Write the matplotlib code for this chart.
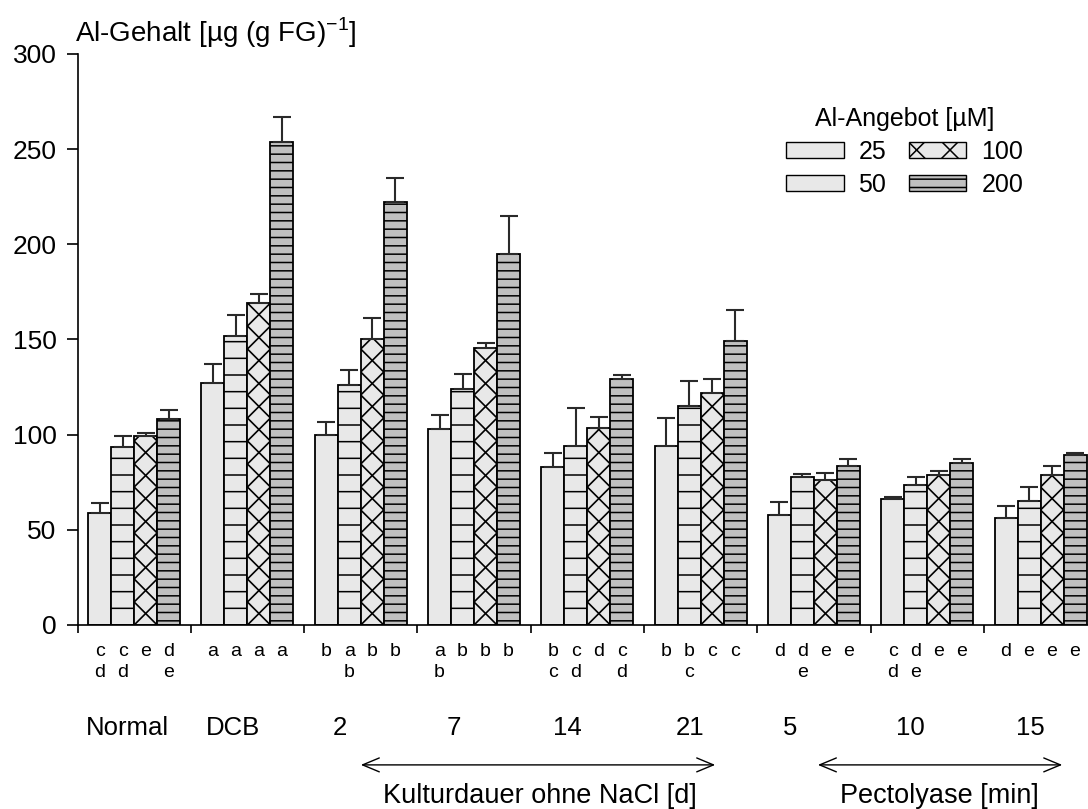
import numpy as np
import matplotlib
matplotlib.use("Agg")
import matplotlib.pyplot as plt
from matplotlib.patches import Patch, FancyArrowPatch
from matplotlib.lines import Line2D

plt.rcParams["font.family"] = ["Liberation Sans", "DejaVu Sans"]
plt.rcParams["hatch.linewidth"] = 1.1
plt.rcParams["mathtext.fontset"] = "custom"
plt.rcParams["mathtext.rm"] = "Liberation Sans"

groups = ["Normal", "DCB", "2", "7", "14", "21", "5", "10", "15"]
supply = ["25", "50", "100", "200"]

al25 = [59, 127, 100, 103, 83, 94, 58, 66, 56]
al25_err = [5, 10, 6.5, 7.5, 7.5, 15, 6.5, 1.5, 6.5]
al50 = [93.5, 152, 126, 124, 94, 115, 78, 73.5, 65]
al50_err = [6, 11, 8, 8, 20, 13, 1.5, 4, 7.5]
al100 = [99.5, 169, 150, 145.5, 103.5, 122, 76, 79, 79]
al100_err = [1.5, 5, 11.5, 2.5, 6, 7, 4, 1.8, 4.5]
al200 = [108, 254, 222, 195, 129.5, 149, 83.5, 85, 89.5]
al200_err = [5, 13, 13, 20, 2, 16.5, 3.8, 2.4, 1]

# significance letters per group, one entry per Al level
letters = [
    ["c\nd", "c\nd", "e", "d\ne"],
    ["a", "a", "a", "a"],
    ["b", "a\nb", "b", "b"],
    ["a\nb", "b", "b", "b"],
    ["b\nc", "c\nd", "d", "c\nd"],
    ["b", "b\nc", "c", "c"],
    ["d", "d\ne", "e", "e"],
    ["c\nd", "d\ne", "e", "e"],
    ["d", "e", "e", "e"],
]

means = [al25, al50, al100, al200]
errs = [al25_err, al50_err, al100_err, al200_err]
faces = ["#e8e8e8", "#e8e8e8", "#e8e8e8", "#c0c0c0"]
hatches = [None, "-", None, "--"]

# label x positions (hand placed, slightly left of group centre)
label_x = [0.44, 1.37, 2.32, 3.32, 4.32, 5.41, 6.29, 7.35, 8.41]

fig = plt.figure(figsize=(10.88, 8.09), dpi=100)
ax = fig.add_axes([77.5 / 1088, 1 - 625 / 809, 1 - 77.5 / 1088, (625 - 54) / 809])
ax.set_xlim(0, (1088 - 77.5) / 113.3)
ax.set_ylim(0, 300)

x = np.arange(len(groups))
w = 0.203
off = (1 - 4 * w) / 2

for k in range(4):
    xs = x + off + w * (k + 0.5)
    bars = ax.bar(xs, means[k], w, color=faces[k], edgecolor="black",
                  linewidth=1.3, hatch=hatches[k], zorder=2)
    ax.errorbar(xs, means[k], yerr=[np.zeros(len(x)), errs[k]], fmt="none",
                ecolor="#2a2a2a", elinewidth=1.5, capsize=6.4, capthick=1.5,
                zorder=3)
    if k == 2:
        # diamond cross pattern fitted to the bar width
        p0 = ax.transData.transform((0, 0))
        p1 = ax.transData.transform((w, 1))
        h = (p1[0] - p0[0]) / (p1[1] - p0[1])
        for b in bars:
            bx0, bx1 = b.get_x(), b.get_x() + b.get_width()
            n = int(b.get_height() / h) + 2
            ys = np.arange(n + 1) * h
            for start in (0, 1):
                zx = [bx0 if (i + start) % 2 == 0 else bx1 for i in range(n + 1)]
                ln = Line2D(zx, ys, color="black", lw=1.2, zorder=2.5)
                ax.add_line(ln)
                ln.set_clip_path(b)

for s in ["top", "right"]:
    ax.spines[s].set_visible(False)
ax.spines["left"].set_linewidth(1.2)
ax.spines["bottom"].set_linewidth(1.2)
ax.set_yticks(range(0, 301, 50))
ax.set_xticks(np.arange(0, 9))
ax.set_xticklabels([])
ax.tick_params(axis="y", length=8, width=1.2, labelsize=19, pad=7)
ax.tick_params(axis="x", length=6, width=1.2)

ax.text(-0.002, 1.021, r"Al-Gehalt [µg (g FG)$^{-1}$]", transform=ax.transAxes,
        fontsize=20, ha="left", va="baseline")

tr = ax.get_xaxis_transform()
for g in range(len(groups)):
    for k in range(4):
        rows = letters[g][k].split("\n")
        cx = g + off + w * (k + 0.5)
        for r, ch in enumerate(rows):
            ax.text(cx, -0.047 - 0.037 * r, ch, transform=tr, ha="center",
                    va="center", fontsize=14, clip_on=False)
    ax.text(label_x[g], -0.180, groups[g], transform=tr, ha="center",
            va="center", fontsize=18.5)

for a, b, lab, cx in [(2.476, 5.653, "Kulturdauer ohne NaCl [d]", 4.08),
                      (6.51, 8.716, "Pectolyase [min]", 7.61)]:
    arr = FancyArrowPatch((a, -0.245), (b, -0.245), transform=tr,
                          arrowstyle="<->,head_length=0.6,head_width=0.25",
                          mutation_scale=20, lw=1.0, color="black",
                          clip_on=False)
    ax.add_patch(arr)
    ax.text(cx, -0.300, lab, transform=tr, ha="center", va="center",
            fontsize=19.5)

handles = [Patch(facecolor=faces[0], edgecolor="black", lw=1.0),
           Patch(facecolor=faces[1], edgecolor="black", lw=1.0),
           Patch(facecolor=faces[2], edgecolor="black", lw=1.0, hatch="x"),
           Patch(facecolor=faces[3], edgecolor="black", lw=1.0, hatch="--")]
leg = ax.legend(handles, supply, title="Al-Angebot [µM]", ncol=2,
                loc="upper left", bbox_to_anchor=(786 / 1088, 1 - 107 / 809),
                bbox_transform=fig.transFigure, frameon=False, fontsize=18,
                title_fontsize=18, handlelength=2.3, handleheight=0.6,
                handletextpad=0.6, columnspacing=0.9, labelspacing=0.35,
                borderpad=0, borderaxespad=0)

fig.savefig("out.png", dpi=100)
